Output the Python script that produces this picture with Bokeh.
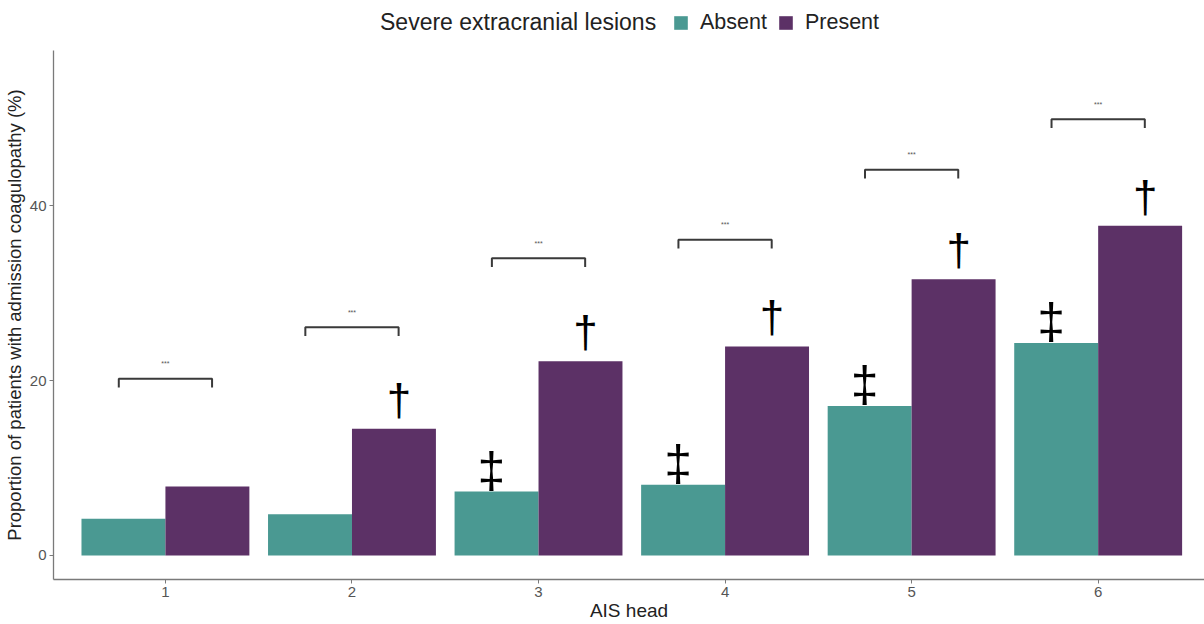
import numpy as np
from bokeh.plotting import figure
from bokeh.layouts import column
from bokeh.models import Range1d, FixedTicker, Legend, LegendItem
from bokeh.core.properties import value
from bokeh.embed import file_html
from bokeh.resources import INLINE

# ---- data ----
ais_head = [1, 2, 3, 4, 5, 6]
absent = [4.2, 4.7, 7.3, 8.1, 17.1, 24.3]
present = [7.9, 14.5, 22.2, 23.9, 31.6, 37.7]
bracket_y = [20.2, 26.1, 34.0, 36.1, 44.1, 49.9]
bracket_label = ["***", "***", "***", "***", "***", "***"]
absent_mark = ["", "", "\u2021", "\u2021", "\u2021", "\u2021"]
present_mark = ["", "\u2020", "\u2020", "\u2020", "\u2020", "\u2020"]
y_ticks = [0, 20, 40]
series_names = ["Absent", "Present"]
legend_title = "Severe extracranial lesions"

FONT = "Liberation Sans"
TEAL = "#4a9992"
PURPLE = "#5c3166"

cats = np.array(ais_head, dtype=float)
dodge = 0.225
bar_w = 0.45

# ---------------- main chart ----------------
p = figure(width=1204, height=574,
           x_range=Range1d(0.4, 6.57), y_range=Range1d(-2.75, 57.75),
           output_backend="svg", toolbar_location=None,
           min_border_left=53, min_border_right=0,
           min_border_top=0, min_border_bottom=45)

p.vbar(x=cats - dodge, top=absent, bottom=0, width=bar_w,
       fill_color=TEAL, line_color=None)
p.vbar(x=cats + dodge, top=present, bottom=0, width=bar_w,
       fill_color=PURPLE, line_color=None)

# significance brackets
xs = [[c - 0.25, c - 0.25, c + 0.25, c + 0.25] for c in cats]
ys = [[b - 1.0, b, b, b - 1.0] for b in bracket_y]
p.multi_line(xs=xs, ys=ys, line_color="#3a3a3a", line_width=2)
p.text(x=cats, y=np.array(bracket_y) + 1.3, text=bracket_label,
       text_font=value(FONT), text_font_size="7px", text_color="#555555",
       text_align="center", text_baseline="bottom")

# dagger marks
p.text(x=cats + dodge + 0.027, y=present, text=present_mark,
       text_font=value(FONT), text_font_size="44px", text_color="black",
       text_align="center", text_baseline="bottom", y_offset=-5)
p.text(x=cats - dodge - 0.027, y=absent, text=absent_mark,
       text_font=value(FONT), text_font_size="50px", text_color="black",
       text_align="center", text_baseline="bottom", y_offset=6)

p.xgrid.visible = False
p.ygrid.visible = False
p.outline_line_color = None

p.xaxis.ticker = FixedTicker(ticks=ais_head)
p.yaxis.ticker = FixedTicker(ticks=y_ticks)
for ax in (p.xaxis, p.yaxis):
    ax.axis_line_color = "#7a7a7a"
    ax.axis_line_width = 1.3
    ax.major_tick_line_color = "#7a7a7a"
    ax.major_tick_out = 4
    ax.major_tick_in = 0
    ax.minor_tick_line_color = None
    ax.major_label_text_font = FONT
    ax.major_label_text_font_size = "15px"
    ax.major_label_text_color = "#555555"
    ax.major_label_standoff = 3
    ax.axis_label_text_font = FONT
    ax.axis_label_text_font_style = "normal"
    ax.axis_label_text_color = "#222222"

p.yaxis.axis_label = "Proportion of patients with admission coagulopathy (%)"
p.yaxis.axis_label_text_font_size = "18.5px"
p.yaxis.axis_label_standoff = 2

p.xaxis.axis_label = "AIS head"
p.xaxis.axis_label_text_font_size = "19px"
p.xaxis.axis_label_standoff = 0

# ---------------- legend strip ----------------
lg = figure(width=1204, height=50, output_backend="svg", toolbar_location=None,
            x_axis_location=None, y_axis_location=None,
            min_border=0, x_range=Range1d(0, 1), y_range=Range1d(0, 1))
lg.xgrid.visible = False
lg.ygrid.visible = False
lg.outline_line_color = None

# zero-height placeholder bars: only their legend swatches are seen
r_title = lg.vbar(x=[0.5], top=[0], bottom=[0], width=0.01, fill_alpha=0, line_alpha=0)
r_abs = lg.vbar(x=[0.5], top=[0], bottom=[0], width=0.01, fill_color=TEAL, line_color=None)
r_pre = lg.vbar(x=[0.5], top=[0], bottom=[0], width=0.01, fill_color=PURPLE, line_color=None)

leg_title = Legend(items=[LegendItem(label=legend_title, renderers=[r_title])],
                   location=(327, 14), orientation="horizontal",
                   glyph_width=0, glyph_height=17, label_standoff=0,
                   padding=0, margin=0, label_height=17,
                   label_text_font=FONT, label_text_font_size="23px",
                   label_text_color="#222222",
                   border_line_alpha=0, background_fill_alpha=0)
leg_items = Legend(items=[LegendItem(label=series_names[0], renderers=[r_abs]),
                          LegendItem(label=series_names[1], renderers=[r_pre])],
                   location=(619, 15), orientation="horizontal",
                   glyph_width=17, glyph_height=17, label_standoff=11, spacing=10,
                   padding=0, margin=0, label_height=17,
                   label_text_font=FONT, label_text_font_size="21.5px",
                   label_text_color="#222222",
                   border_line_alpha=0, background_fill_alpha=0)
lg.add_layout(leg_title)
lg.add_layout(leg_items)

layout = column(lg, p, spacing=0)
open("out.html", "w").write(file_html(layout, INLINE))
